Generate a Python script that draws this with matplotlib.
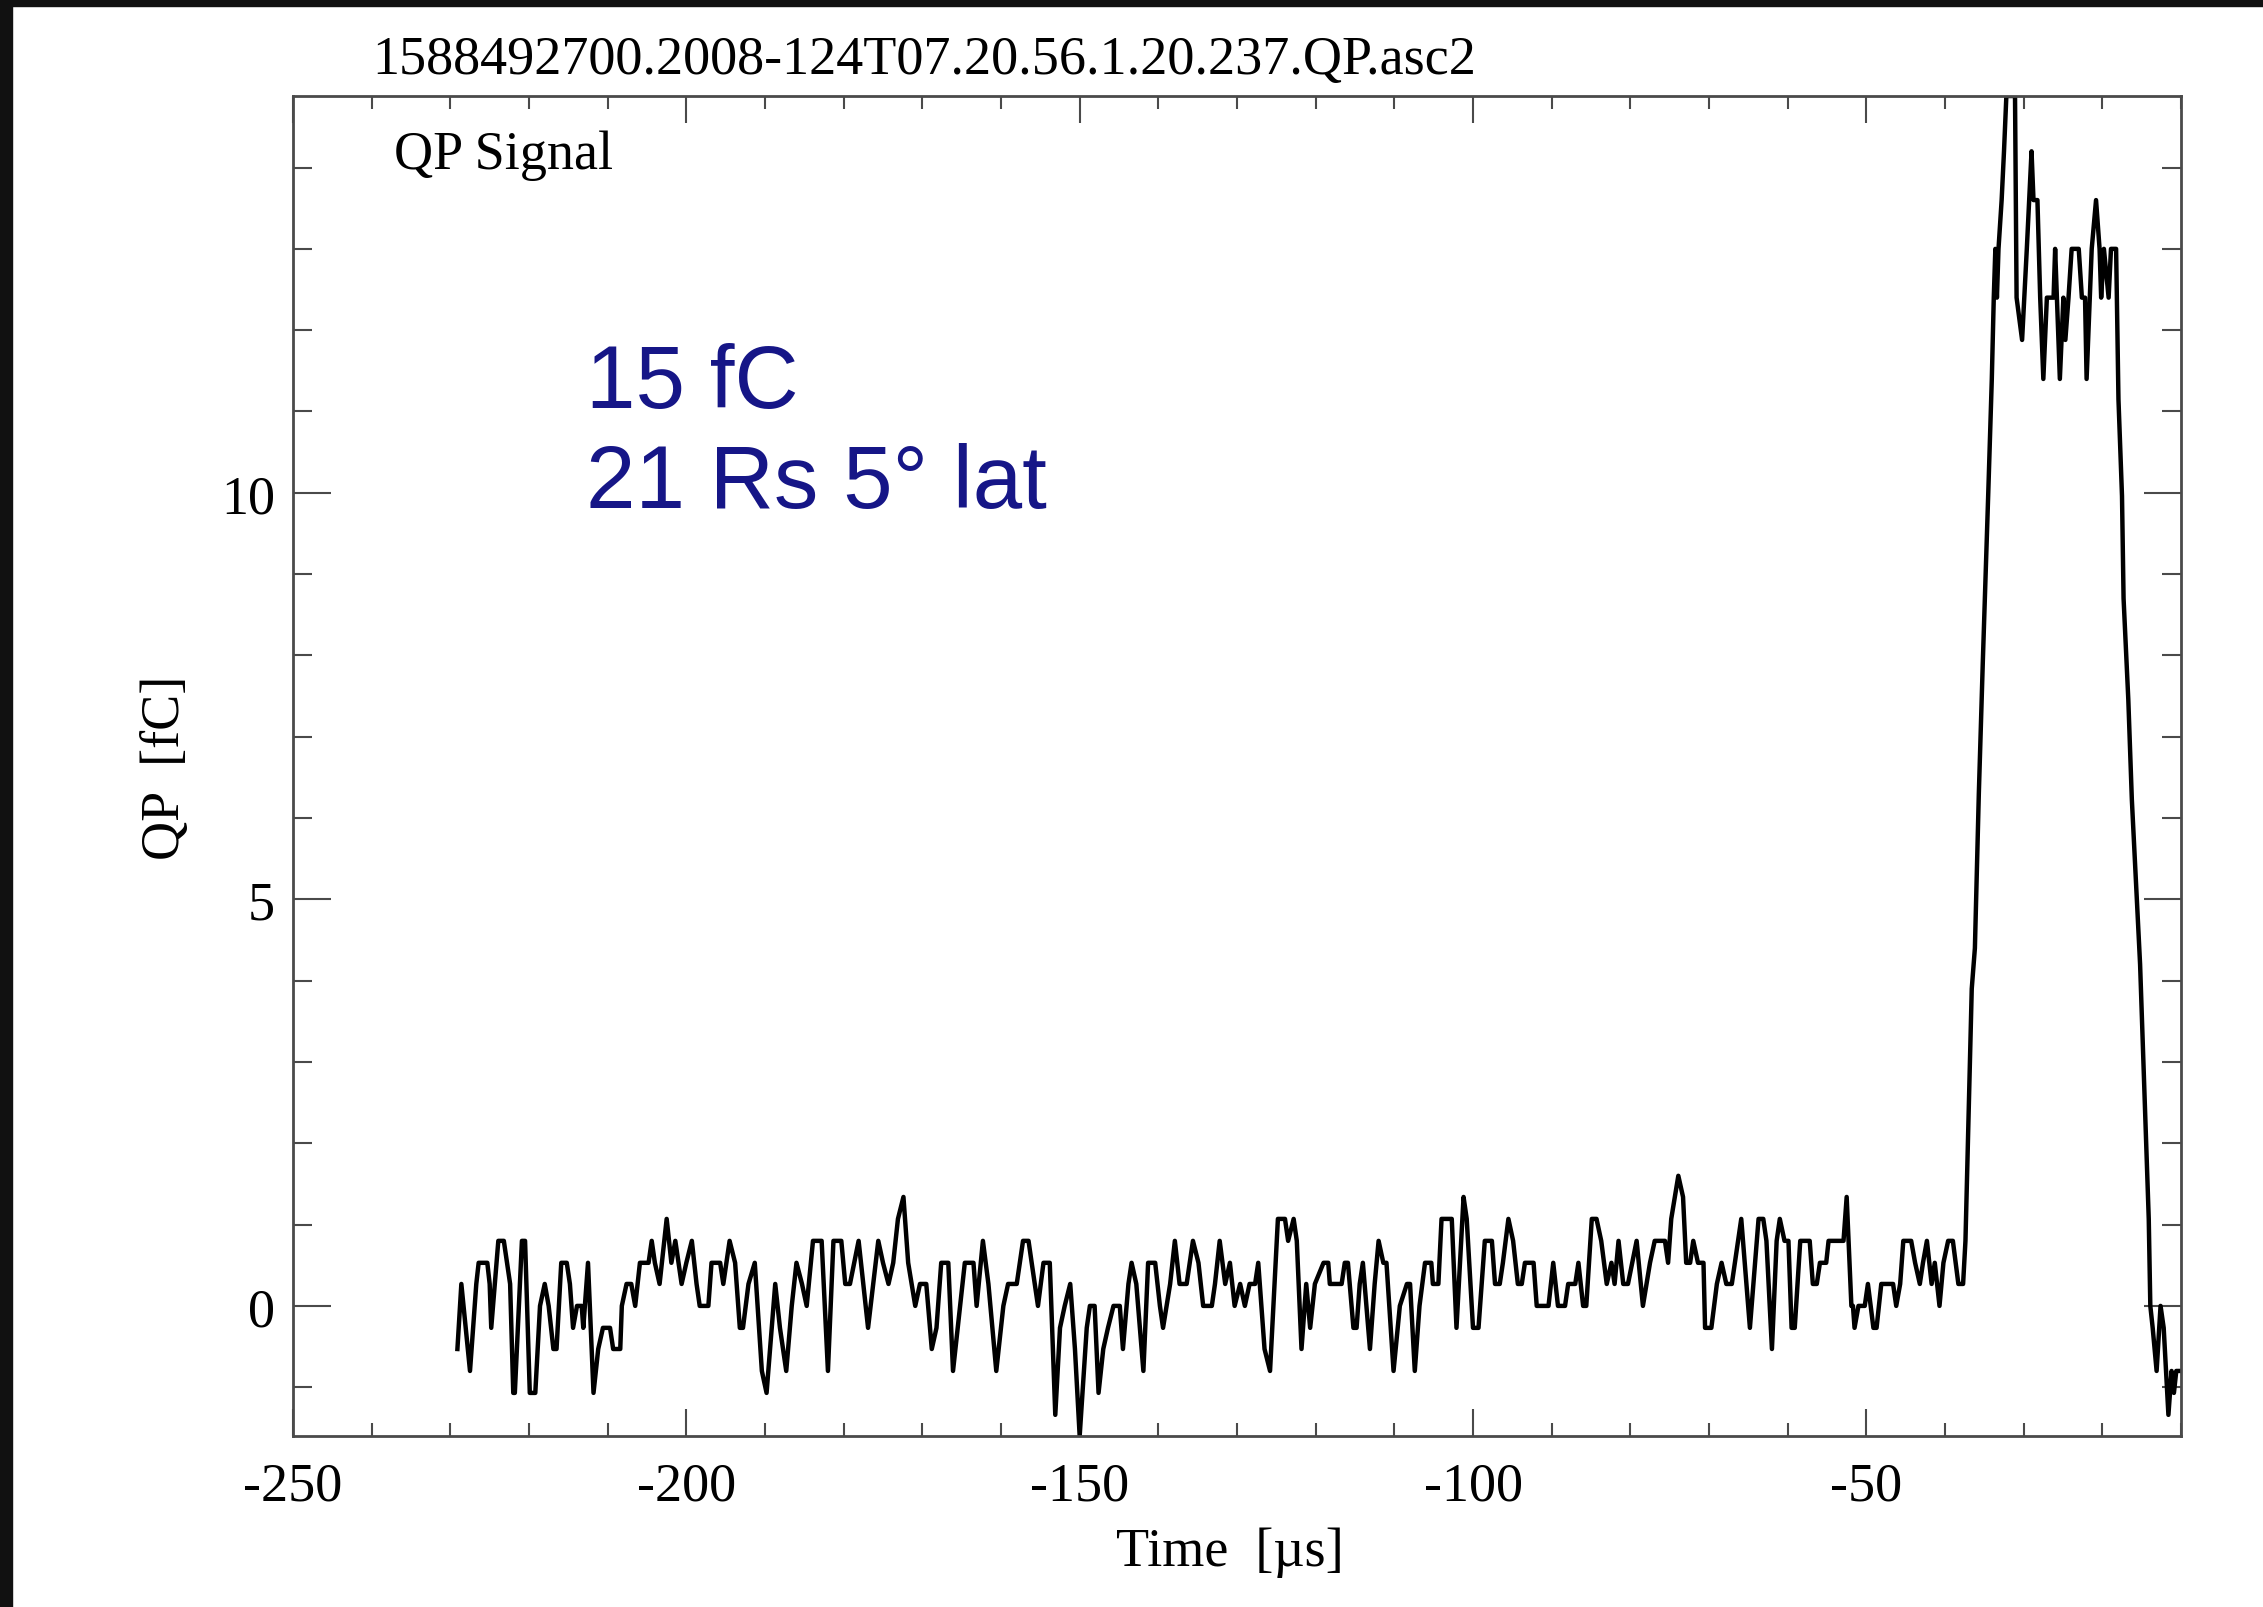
import matplotlib
matplotlib.use("Agg")
import matplotlib.pyplot as plt
from matplotlib.patches import Rectangle
from matplotlib.ticker import MultipleLocator

# Datos: tiempo [us] y carga QP [fC]
time_us = [
    -229.1, -228.6, -227.5, -226.7, -226.4, -225.3, -225.0, -224.8, -223.9, -223.2,
    -222.4, -222.0, -221.8, -220.9, -220.5, -219.9, -219.2, -218.6, -218.0, -217.5,
    -216.9, -216.5, -215.9, -215.2, -214.8, -214.4, -213.9, -213.3, -213.1, -212.5,
    -211.8, -211.2, -210.6, -209.7, -209.3, -208.4, -208.2, -207.6, -207.0, -206.5,
    -205.9, -204.8, -204.4, -204.0, -203.4, -202.5, -201.9, -201.4, -200.6, -200.0,
    -199.3, -198.7, -198.3, -197.2, -196.8, -195.7, -195.3, -194.5, -193.8, -193.2,
    -192.8, -192.1, -191.3, -190.4, -189.8, -188.7, -188.1, -187.3, -186.6, -186.0,
    -185.3, -184.7, -183.9, -182.8, -182.0, -181.3, -180.3, -179.8, -179.2, -178.1,
    -177.5, -176.9, -175.6, -175.0, -174.3, -173.7, -173.1, -172.4, -171.8, -170.9,
    -170.3, -169.5, -168.8, -168.2, -167.6, -166.7, -166.1, -165.2, -164.6, -163.5,
    -163.1, -162.3, -161.6, -160.6, -159.7, -159.1, -158.0, -157.2, -156.5, -156.1,
    -155.3, -154.6, -153.8, -153.1, -152.5, -151.9, -151.2, -150.6, -150.0, -149.1,
    -148.7, -148.1, -147.6, -147.0, -146.4, -145.7, -144.9, -144.5, -143.8, -143.4,
    -142.8, -141.9, -141.3, -140.4, -139.8, -139.4, -138.5, -137.9, -137.3, -136.4,
    -135.6, -134.9, -134.3, -133.2, -132.8, -132.2, -131.5, -130.9, -130.3, -129.6,
    -129.0, -128.4, -127.7, -127.3, -126.5, -125.8, -124.8, -123.9, -123.5, -122.8,
    -122.4, -121.8, -121.2, -120.7, -120.1, -119.0, -118.4, -118.2, -116.7, -116.3,
    -115.9, -115.2, -114.8, -114.4, -114.0, -113.1, -112.5, -112.0, -111.4, -111.0,
    -110.1, -109.3, -108.4, -108.0, -107.4, -106.8, -106.1, -105.3, -105.1, -104.4,
    -104.0, -102.7, -102.1, -101.2, -100.8, -100.0, -99.3, -98.5, -97.6, -97.2,
    -96.6, -96.2, -95.5, -94.9, -94.3, -93.8, -93.4, -92.3, -91.9, -90.4,
    -89.8, -89.2, -88.3, -87.9, -87.0, -86.6, -86.0, -85.6, -84.9, -84.3,
    -83.7, -83.0, -82.4, -82.0, -81.5, -80.9, -80.3, -79.2, -78.4, -77.5,
    -76.9, -75.6, -75.2, -74.8, -73.9, -73.3, -72.9, -72.4, -72.0, -71.4,
    -70.7, -70.5, -69.7, -69.0, -68.4, -67.8, -67.1, -65.9, -64.8, -63.7,
    -63.1, -62.7, -62.0, -61.4, -61.0, -60.4, -59.9, -59.5, -59.1, -58.4,
    -57.2, -56.8, -56.3, -55.9, -55.1, -54.8, -52.9, -52.5, -51.9, -51.7,
    -51.5, -51.0, -50.2, -49.8, -49.1, -48.7, -48.1, -46.6, -46.2, -45.7,
    -45.3, -44.3, -43.8, -43.2, -42.8, -42.3, -41.7, -41.3, -40.7, -40.2,
    -39.6, -39.0, -38.3, -37.7,
    # pulso
    -37.4, -36.6, -36.2, -35.7, -35.2, -34.5, -34.05, -33.8, -33.6,
    -33.4, -33.2, -32.8, -32.5, -32.2, -31.1, -30.9, -30.2, -29.6, -29.0,
    -28.75, -28.25, -27.9, -27.5, -27.05, -26.2, -26.0, -25.4, -24.95, -24.7,
    -24.3, -23.9, -23.0, -22.6, -22.2, -22.0, -21.35, -20.8, -20.35, -20.15,
    -19.8, -19.2, -18.9, -18.25, -17.95, -17.5, -17.3, -16.7, -16.25, -15.2,
    -14.1, -13.9, -13.6, -13.1, -12.6, -12.2, -11.6, -11.2, -10.9, -10.6,
    -10.0,
]

qp_fc = [
    -0.53, 0.27, -0.8, 0.27, 0.53, 0.53, 0.27, -0.27, 0.8, 0.8,
    0.27, -1.07, -1.07, 0.8, 0.8, -1.07, -1.07, 0.0, 0.27, 0.0,
    -0.53, -0.53, 0.53, 0.53, 0.27, -0.27, 0.0, 0.0, -0.27, 0.53,
    -1.07, -0.53, -0.27, -0.27, -0.53, -0.53, 0.0, 0.27, 0.27, 0.0,
    0.53, 0.53, 0.8, 0.53, 0.27, 1.07, 0.53, 0.8, 0.27, 0.53,
    0.8, 0.27, 0.0, 0.0, 0.53, 0.53, 0.27, 0.8, 0.53, -0.27,
    -0.27, 0.27, 0.53, -0.8, -1.07, 0.27, -0.27, -0.8, 0.0, 0.53,
    0.27, 0.0, 0.8, 0.8, -0.8, 0.8, 0.8, 0.27, 0.27, 0.8,
    0.27, -0.27, 0.8, 0.53, 0.27, 0.53, 1.07, 1.34, 0.53, 0.0,
    0.27, 0.27, -0.53, -0.27, 0.53, 0.53, -0.8, 0.0, 0.53, 0.53,
    0.0, 0.8, 0.27, -0.8, 0.0, 0.27, 0.27, 0.8, 0.8, 0.53,
    0.0, 0.53, 0.53, -1.34, -0.27, 0.0, 0.27, -0.53, -1.6, -0.27,
    0.0, 0.0, -1.07, -0.53, -0.27, 0.0, 0.0, -0.53, 0.27, 0.53,
    0.27, -0.8, 0.53, 0.53, 0.0, -0.27, 0.27, 0.8, 0.27, 0.27,
    0.8, 0.53, 0.0, 0.0, 0.27, 0.8, 0.27, 0.53, 0.0, 0.27,
    0.0, 0.27, 0.27, 0.53, -0.53, -0.8, 1.07, 1.07, 0.8, 1.07,
    0.8, -0.53, 0.27, -0.27, 0.27, 0.53, 0.53, 0.27, 0.27, 0.53,
    0.53, -0.27, -0.27, 0.27, 0.53, -0.53, 0.27, 0.8, 0.53, 0.53,
    -0.8, 0.0, 0.27, 0.27, -0.8, 0.0, 0.53, 0.53, 0.27, 0.27,
    1.07, 1.07, -0.27, 1.34, 1.07, -0.27, -0.27, 0.8, 0.8, 0.27,
    0.27, 0.53, 1.07, 0.8, 0.27, 0.27, 0.53, 0.53, 0.0, 0.0,
    0.53, 0.0, 0.0, 0.27, 0.27, 0.53, 0.0, 0.0, 1.07, 1.07,
    0.8, 0.27, 0.53, 0.27, 0.8, 0.27, 0.27, 0.8, 0.0, 0.53,
    0.8, 0.8, 0.53, 1.07, 1.6, 1.34, 0.53, 0.53, 0.8, 0.53,
    0.53, -0.27, -0.27, 0.27, 0.53, 0.27, 0.27, 1.07, -0.27, 1.07,
    1.07, 0.8, -0.53, 0.8, 1.07, 0.8, 0.8, -0.27, -0.27, 0.8,
    0.8, 0.27, 0.27, 0.53, 0.53, 0.8, 0.8, 1.34, 0.0, 0.0,
    -0.27, 0.0, 0.0, 0.27, -0.27, -0.27, 0.27, 0.27, 0.0, 0.27,
    0.8, 0.8, 0.53, 0.27, 0.53, 0.8, 0.27, 0.53, 0.0, 0.53,
    0.8, 0.8, 0.27, 0.27,
    # pulso
    0.8, 3.9, 4.4, 6.3, 7.9, 10.0, 11.4, 12.4, 13.0,
    12.4, 13.0, 13.6, 14.2, 14.88, 14.88, 12.4, 11.88, 13.0, 14.2,
    13.6, 13.6, 12.4, 11.4, 12.4, 12.4, 13.0, 11.4, 12.4, 11.88,
    12.4, 13.0, 13.0, 12.4, 12.4, 11.4, 13.0, 13.6, 13.0, 12.4,
    13.0, 12.4, 13.0, 13.0, 11.15, 9.96, 8.7, 7.46, 6.23, 4.2,
    1.07, 0.0, -0.27, -0.8, 0.0, -0.27, -1.34, -0.8, -1.07, -0.8,
    -0.8,
]

x_ticks = [-250, -200, -150, -100, -50]
y_ticks = [0, 5, 10]
titulo = "1588492700.2008-124T07.20.56.1.20.237.QP.asc2"

plt.rcParams["axes.unicode_minus"] = False
serif = "Liberation Serif"
fs = 39

W, H = 2263, 1608
fig = plt.figure(figsize=(W / 100, H / 100), dpi=100)
fig.patch.set_facecolor("white")

# franjas oscuras del fondo de la diapositiva
fig.patches.append(Rectangle((0, 1 - 7 / H), 1, 7 / H, transform=fig.transFigure,
                             color="#111111", zorder=0))
fig.patches.append(Rectangle((0, 0), 12 / W, 1, transform=fig.transFigure,
                             color="#111111", zorder=0))

ax = fig.add_axes([293 / W, 1 - 1437 / H, 1888 / W, 1340 / H])
ax.plot(time_us, qp_fc, color="black", lw=3.2)

ax.set_xlim(-250, -10)
ax.set_ylim(-1.6, 14.88)
ax.set_xticks(x_ticks)
ax.set_yticks(y_ticks)
ax.xaxis.set_minor_locator(MultipleLocator(10))
ax.yaxis.set_minor_locator(MultipleLocator(1))

frame = "#4a4a4a"
for s in ax.spines.values():
    s.set_color(frame)
    s.set_linewidth(2.0)

ax.tick_params(axis="x", which="major", direction="in", length=19.5, width=1.5,
               color=frame, top=True, pad=18)
ax.tick_params(axis="x", which="minor", direction="in", length=9.7, width=1.5,
               color=frame, top=True)
ax.tick_params(axis="y", which="major", direction="in", length=27, width=1.5,
               color=frame, right=True, pad=13)
ax.tick_params(axis="y", which="minor", direction="in", length=13.5, width=1.5,
               color=frame, right=True)
for lab in ax.get_xticklabels() + ax.get_yticklabels():
    lab.set_fontfamily(serif)
    lab.set_fontsize(fs)

# textos
fig.text(372 / W, 1 - 74 / H, titulo, family=serif, fontsize=fs, va="baseline", ha="left")
fig.text(394 / W, 1 - 169 / H, "QP Signal", family=serif, fontsize=fs, va="baseline", ha="left")
fig.text(0.5434, 1 - 1566 / H, "Time  [\u00b5s]", family=serif, fontsize=fs,
         va="baseline", ha="center")
fig.text(166 / W, 1 - 768 / H, "QP  [fC]", family=serif, fontsize=fs,
         rotation=90, va="center", ha="center")

azul = "#161687"
fig.text(0.259, 1 - 408 / H, "15 fC", family="Liberation Sans", fontsize=64,
         color=azul, va="baseline", ha="left")
fig.text(0.259, 1 - 508 / H, "21 Rs 5\u00b0 lat", family="Liberation Sans", fontsize=64,
         color=azul, va="baseline", ha="left")

fig.savefig("out.png", dpi=100, facecolor=fig.get_facecolor())
